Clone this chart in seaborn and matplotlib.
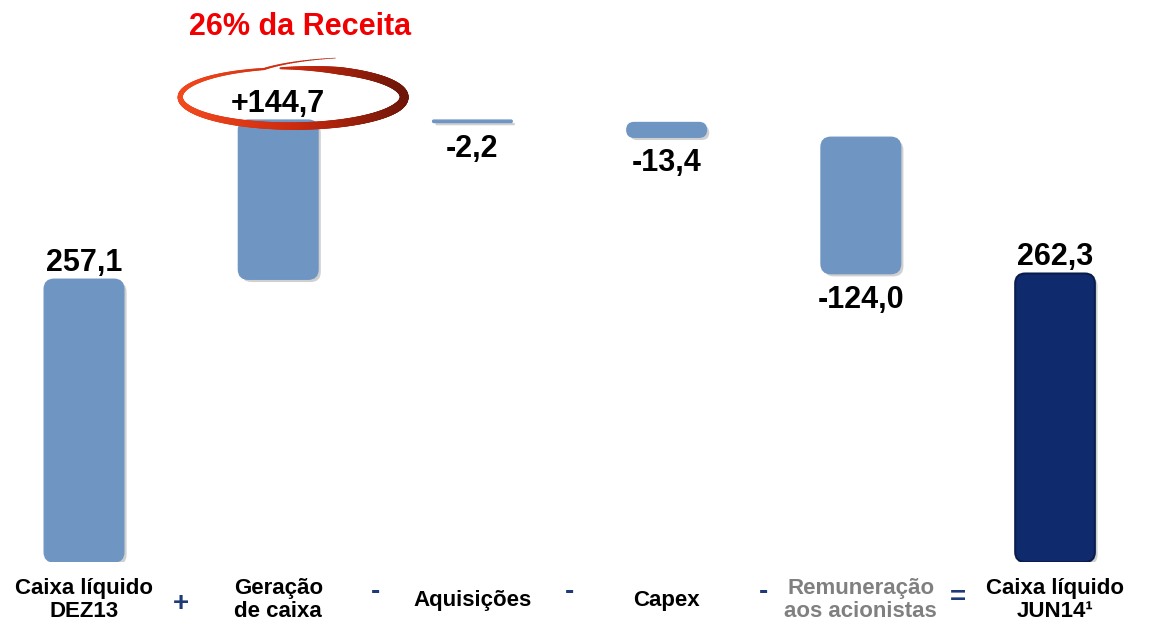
import matplotlib
matplotlib.use("Agg")
import matplotlib.pyplot as plt
import numpy as np
import pandas as pd
import seaborn as sns
from matplotlib import patheffects
from matplotlib.collections import LineCollection
from matplotlib.colors import LinearSegmentedColormap
from matplotlib.patches import FancyBboxPatch
from matplotlib.transforms import ScaledTranslation, blended_transform_factory

# Data (R$ milhões)
CATEGORIES = ["Caixa líquido\nDEZ13", "Geração\nde caixa", "Aquisições",
              "Capex", "Remuneração\naos acionistas", "Caixa líquido\nJUN14¹"]
START = 257.1
STEPS = [144.7, -2.2, -13.4, -124.0]
END = 262.3
VALUE_LABELS = ["257,1", "+144,7", "-2,2", "-13,4", "-124,0", "262,3"]
OPERATORS = ["+", "-", "-", "-", "="]
HIGHLIGHT = "26% da Receita"

LIGHT = "#6f95c3"
DARK = "#0f2b6e"
NAVY = "#1f3a78"


def waterfall_frame():
    """Floating bar bottoms and heights from start, steps and end."""
    bottoms, heights, signs = [0.0], [START], [1]
    running = START
    for s in STEPS:
        bottoms.append(min(running, running + s))
        heights.append(abs(s))
        signs.append(1 if s > 0 else -1)
        running += s
    bottoms.append(0.0)
    heights.append(END)
    signs.append(1)
    return pd.DataFrame({"cat": CATEGORIES, "height": heights,
                         "bottom": bottoms, "sign": signs,
                         "label": VALUE_LABELS})


def main():
    df = waterfall_frame()
    sns.set_theme(style="white")
    plt.rcParams["font.family"] = ["Liberation Sans", "DejaVu Sans"]
    plt.rcParams["font.weight"] = "bold"

    fig = plt.figure(figsize=(11.5, 6.25), dpi=100)
    ax = fig.add_axes([0, 0.1008, 1, 0.8992])
    palette = [LIGHT] * (len(CATEGORIES) - 1) + [DARK]
    sns.barplot(data=df, x="cat", y="height", hue="cat", palette=palette,
                legend=False, width=0.41, saturation=1, ax=ax)
    ax.set_xlim(-0.4326, 5.489)
    ax.set_ylim(0, 511)
    ax.axis("off")

    # Replace plain bars with rounded floating boxes
    px_x = ax.bbox.width / np.diff(ax.get_xlim())[0]
    px_y = ax.bbox.height / np.diff(ax.get_ylim())[0]
    patches = sorted(ax.patches, key=lambda p: p.get_x())
    for patch, (_, row) in zip(patches, df.iterrows()):
        x0, w = patch.get_x(), patch.get_width()
        color = patch.get_facecolor()
        patch.remove()
        h = row["height"]
        r_px = min(10, h * px_y / 2)
        last = row["cat"] == CATEGORIES[-1]
        edge = "#0a1c4c" if last else color
        box = FancyBboxPatch((x0, row["bottom"]), w, h,
                             boxstyle=f"round,pad=0,rounding_size={r_px/px_x}",
                             mutation_aspect=px_x / px_y, facecolor=color,
                             edgecolor=edge, linewidth=1.5 if last else 1.0,
                             zorder=2)
        box.set_path_effects([patheffects.withSimplePatchShadow(
            offset=(2, -2), shadow_rgbFace="#666666", alpha=0.3)])
        ax.add_patch(box)

    # Value labels
    for i, row in df.iterrows():
        if row["sign"] > 0:
            ax.annotate(row["label"], (i, row["bottom"] + row["height"]),
                        xytext=(0, 6), textcoords="offset points",
                        ha="center", va="baseline", fontsize=22,
                        fontweight="bold", color="black", zorder=5)
        else:
            ax.annotate(row["label"], (i, row["bottom"]),
                        xytext=(0, -8), textcoords="offset points",
                        ha="center", va="top", fontsize=22,
                        fontweight="bold", color="black", zorder=5)

    # Highlight around cash generation
    top2 = df.loc[1, "bottom"] + df.loc[1, "height"]
    ax.annotate(HIGHLIGHT, (1, top2), xytext=(16, 67),
                textcoords="offset points", ha="center", va="center",
                fontsize=22, fontweight="bold", color="#f00000", zorder=5)
    trans = fig.dpi_scale_trans + ScaledTranslation(1, top2, ax.transData)
    t = np.linspace(0, 1, 400)
    theta = np.deg2rad(96 - 382 * t)
    scale = 1 + 0.4 * np.clip((t - 0.92) / 0.08, 0, 1)
    ex = 0.14 + 1.12 * scale * np.cos(theta)
    ey = 0.23 + 0.29 * scale * np.sin(theta)
    pts = np.column_stack([ex, ey]).reshape(-1, 1, 2)
    segs = np.concatenate([pts[:-1], pts[1:]], axis=1)
    widths = np.interp(t[:-1], [0, 0.08, 0.3, 0.55, 0.75, 0.9, 1],
                       [1.5, 5.5, 6.5, 5, 3.5, 1.8, 0.4])
    cmap = LinearSegmentedColormap.from_list(
        "ring", ["#f24a1e", "#cc2a0e", "#6e1608"])
    frac = (ex[:-1] - ex.min()) / (ex.max() - ex.min())
    ring = LineCollection(segs, colors=cmap(frac), linewidths=widths,
                          capstyle="round", transform=trans, zorder=4)
    ring.set_clip_on(False)
    ax.add_collection(ring)

    # Category labels and operators below the bars
    btrans = blended_transform_factory(ax.transData, ax.transAxes)
    for i, cat in enumerate(CATEGORIES):
        color = "#808080" if i == 4 else "black"
        ax.text(i, -0.068, cat, transform=btrans, ha="center", va="center",
                fontsize=16, fontweight="bold", color=color, linespacing=1.15,
                multialignment="center", clip_on=False)
    op_y = {"+": -0.075, "-": -0.054, "=": -0.064}
    for i, op in enumerate(OPERATORS):
        ax.text(i + 0.5, op_y[op], op, transform=btrans, ha="center",
                va="center", fontsize=20, fontweight="bold", color=NAVY,
                clip_on=False)

    fig.savefig("out.png", dpi=100)


if __name__ == "__main__":
    main()
